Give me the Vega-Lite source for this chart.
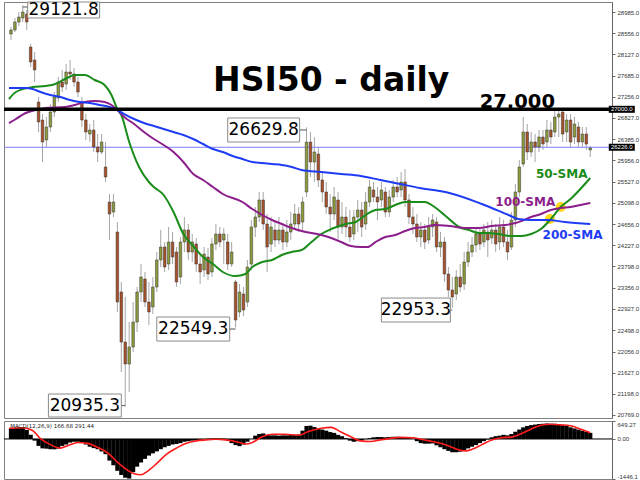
{
"$schema":"https://vega.github.io/schema/vega-lite/v6.json",
"padding":{"left":1,"top":0,"right":0,"bottom":0},
"background":"white",
"spacing":1,
"config":{"view":{"stroke":"#808080","strokeWidth":1},"axisRight":{"labelFont":"Liberation Sans","labelFontSize":6,"labelColor":"#333","tickSize":3,"tickColor":"#666","domainColor":"#666","labelPadding":2,"grid":false,"title":null}},
"datasets":{
"candles":[
{"i":0,"o":28536,"h":28679,"l":28414,"c":28618},{"i":1,"o":28618,"h":28863,"l":28577,"c":28781},{"i":2,"o":28781,"h":28985,"l":28700,"c":28883},{"i":3,"o":28863,"h":29122,"l":28781,"c":28985},{"i":4,"o":28944,"h":29026,"l":28618,"c":28781},{"i":5,"o":28271,"h":28332,"l":27863,"c":27965},{"i":6,"o":28006,"h":28169,"l":27557,"c":27802},{"i":7,"o":27149,"h":27251,"l":26537,"c":26741},{"i":8,"o":26782,"h":26904,"l":25925,"c":26333},{"i":9,"o":26374,"h":26843,"l":26231,"c":26639},
{"i":10,"o":26639,"h":27108,"l":26537,"c":26945},{"i":11,"o":26945,"h":27353,"l":26843,"c":27251},{"i":12,"o":27231,"h":27659,"l":27149,"c":27557},{"i":13,"o":27557,"h":27802,"l":27353,"c":27455},{"i":14,"o":27516,"h":27924,"l":27394,"c":27761},{"i":15,"o":27761,"h":28006,"l":27598,"c":27720},{"i":16,"o":27720,"h":27843,"l":27455,"c":27557},{"i":17,"o":27557,"h":27659,"l":27251,"c":27353},{"i":18,"o":27149,"h":27251,"l":26639,"c":26782},{"i":19,"o":26782,"h":26904,"l":26374,"c":26537},
{"i":20,"o":26496,"h":26700,"l":26333,"c":26578},{"i":21,"o":26578,"h":26782,"l":26129,"c":26231},{"i":22,"o":26231,"h":26496,"l":25925,"c":26129},{"i":23,"o":26129,"h":26496,"l":26088,"c":26333},{"i":24,"o":25823,"h":26333,"l":25517,"c":25619},{"i":25,"o":25109,"h":25272,"l":24334,"c":24864},{"i":26,"o":24905,"h":25272,"l":24803,"c":25109},{"i":27,"o":24497,"h":24701,"l":22865,"c":23069},{"i":28,"o":23273,"h":23477,"l":21641,"c":22253},{"i":29,"o":22253,"h":23171,"l":20935,"c":21804},
{"i":30,"o":21804,"h":22661,"l":21233,"c":22151},{"i":31,"o":22151,"h":23069,"l":22049,"c":22661},{"i":32,"o":22661,"h":23375,"l":22457,"c":23273},{"i":33,"o":23273,"h":23844,"l":23069,"c":23579},{"i":34,"o":23538,"h":23681,"l":22967,"c":23069},{"i":35,"o":23069,"h":23477,"l":22599,"c":22865},{"i":36,"o":22967,"h":23579,"l":22824,"c":23375},{"i":37,"o":23375,"h":24089,"l":23273,"c":23926},{"i":38,"o":23926,"h":24538,"l":23783,"c":24191},{"i":39,"o":24191,"h":24293,"l":23681,"c":23783},
{"i":40,"o":23844,"h":24599,"l":23722,"c":24293},{"i":41,"o":24293,"h":24497,"l":23844,"c":23987},{"i":42,"o":24089,"h":24191,"l":23375,"c":23477},{"i":43,"o":23579,"h":24395,"l":23436,"c":24293},{"i":44,"o":24293,"h":24803,"l":24089,"c":24538},{"i":45,"o":24538,"h":24660,"l":23926,"c":24089},{"i":46,"o":24089,"h":24456,"l":23885,"c":24293},{"i":47,"o":24252,"h":24375,"l":23681,"c":23844},{"i":48,"o":23844,"h":24048,"l":23436,"c":23681},{"i":49,"o":23722,"h":24191,"l":23579,"c":24048},
{"i":50,"o":23987,"h":24171,"l":23518,"c":23640},{"i":51,"o":23681,"h":24375,"l":23579,"c":24252},{"i":52,"o":24252,"h":24660,"l":24130,"c":24456},{"i":53,"o":24456,"h":24599,"l":24191,"c":24293},{"i":54,"o":24334,"h":24579,"l":23844,"c":24456},{"i":55,"o":24293,"h":24456,"l":23722,"c":23844},{"i":56,"o":23844,"h":24293,"l":23783,"c":24089},{"i":57,"o":23477,"h":23518,"l":22549,"c":22702},{"i":58,"o":22865,"h":23436,"l":22763,"c":23273},{"i":59,"o":23232,"h":23375,"l":22783,"c":22906},
{"i":60,"o":23069,"h":23926,"l":22967,"c":23783},{"i":61,"o":23844,"h":24742,"l":23722,"c":24599},{"i":62,"o":24599,"h":25007,"l":24395,"c":24803},{"i":63,"o":24803,"h":25313,"l":24701,"c":25150},{"i":64,"o":25150,"h":25313,"l":24538,"c":24660},{"i":65,"o":24660,"h":24864,"l":23681,"c":24191},{"i":66,"o":24252,"h":24803,"l":24089,"c":24599},{"i":67,"o":24538,"h":24701,"l":24191,"c":24334},{"i":68,"o":24334,"h":24803,"l":24252,"c":24538},{"i":69,"o":24538,"h":24660,"l":24130,"c":24293},
{"i":70,"o":24293,"h":24742,"l":24191,"c":24497},{"i":71,"o":24497,"h":24905,"l":24334,"c":24660},{"i":72,"o":24660,"h":25068,"l":24538,"c":24864},{"i":73,"o":24864,"h":25007,"l":24497,"c":24660},{"i":74,"o":24701,"h":25211,"l":24538,"c":25109},{"i":75,"o":25313,"h":26630,"l":25211,"c":26333},{"i":76,"o":26333,"h":26537,"l":25619,"c":25925},{"i":77,"o":25925,"h":26435,"l":25517,"c":26129},{"i":78,"o":26088,"h":26231,"l":25415,"c":25558},{"i":79,"o":25558,"h":25721,"l":25109,"c":25313},
{"i":80,"o":25313,"h":25517,"l":24864,"c":25007},{"i":81,"o":25007,"h":25272,"l":24497,"c":24864},{"i":82,"o":24864,"h":25415,"l":24742,"c":25211},{"i":83,"o":25150,"h":25313,"l":24293,"c":24599},{"i":84,"o":24599,"h":25109,"l":24456,"c":24803},{"i":85,"o":24803,"h":25007,"l":24395,"c":24599},{"i":86,"o":24599,"h":24946,"l":24293,"c":24395},{"i":87,"o":24456,"h":24946,"l":24334,"c":24803},{"i":88,"o":24803,"h":25150,"l":24497,"c":24946},{"i":89,"o":24946,"h":25109,"l":24395,"c":24599},
{"i":90,"o":24660,"h":25313,"l":24538,"c":25109},{"i":91,"o":25109,"h":25558,"l":25007,"c":25415},{"i":92,"o":25354,"h":25517,"l":25109,"c":25211},{"i":93,"o":25211,"h":25415,"l":24742,"c":25109},{"i":94,"o":25150,"h":25517,"l":25007,"c":25354},{"i":95,"o":25313,"h":25415,"l":24803,"c":24905},{"i":96,"o":24905,"h":25354,"l":24803,"c":25211},{"i":97,"o":25211,"h":25558,"l":25109,"c":25415},{"i":98,"o":25415,"h":25619,"l":25211,"c":25313},{"i":99,"o":25354,"h":25721,"l":25211,"c":25517},
{"i":100,"o":25517,"h":25782,"l":25007,"c":25150},{"i":101,"o":25150,"h":25272,"l":24660,"c":24803},{"i":102,"o":24803,"h":25007,"l":24456,"c":24660},{"i":103,"o":24660,"h":24864,"l":24293,"c":24395},{"i":104,"o":24395,"h":24701,"l":24191,"c":24538},{"i":105,"o":24538,"h":24660,"l":24150,"c":24293},{"i":106,"o":24334,"h":24803,"l":24252,"c":24599},{"i":107,"o":24599,"h":24864,"l":24395,"c":24742},{"i":108,"o":24701,"h":24803,"l":24089,"c":24191},{"i":109,"o":24191,"h":24497,"l":23987,"c":24293},
{"i":110,"o":24293,"h":24395,"l":23477,"c":23640},{"i":111,"o":23640,"h":23783,"l":23171,"c":23314},{"i":112,"o":23314,"h":23579,"l":22953,"c":23171},{"i":113,"o":23232,"h":23722,"l":23110,"c":23579},{"i":114,"o":23579,"h":23844,"l":23273,"c":23375},{"i":115,"o":23436,"h":24089,"l":23314,"c":23885},{"i":116,"o":23885,"h":24293,"l":23783,"c":24089},{"i":117,"o":24089,"h":24395,"l":23987,"c":24232},{"i":118,"o":24232,"h":24599,"l":24089,"c":24456},{"i":119,"o":24456,"h":24599,"l":24130,"c":24252},
{"i":120,"o":24293,"h":24660,"l":24191,"c":24538},{"i":121,"o":24497,"h":24701,"l":23987,"c":24334},{"i":122,"o":24375,"h":24742,"l":24252,"c":24538},{"i":123,"o":24538,"h":24660,"l":24089,"c":24252},{"i":124,"o":24293,"h":24803,"l":24130,"c":24599},{"i":125,"o":24599,"h":24742,"l":24191,"c":24293},{"i":126,"o":24293,"h":24538,"l":23926,"c":24089},{"i":127,"o":24191,"h":24905,"l":24130,"c":24742},{"i":128,"o":24742,"h":25476,"l":24599,"c":25313},{"i":129,"o":25313,"h":25966,"l":25211,"c":25823},
{"i":130,"o":25884,"h":26843,"l":25823,"c":26537},{"i":131,"o":26537,"h":26700,"l":25966,"c":26129},{"i":132,"o":26129,"h":26537,"l":26027,"c":26333},{"i":133,"o":26333,"h":26496,"l":25925,"c":26231},{"i":134,"o":26231,"h":26578,"l":26129,"c":26435},{"i":135,"o":26435,"h":26578,"l":26170,"c":26292},{"i":136,"o":26333,"h":26782,"l":26231,"c":26578},{"i":137,"o":26578,"h":26741,"l":26292,"c":26435},{"i":138,"o":26537,"h":26986,"l":26435,"c":26843},{"i":139,"o":26843,"h":26986,"l":26435,"c":26904},
{"i":140,"o":26945,"h":26986,"l":26333,"c":26496},{"i":141,"o":26537,"h":26904,"l":26333,"c":26782},{"i":142,"o":26782,"h":26904,"l":26231,"c":26333},{"i":143,"o":26435,"h":26843,"l":26292,"c":26700},{"i":144,"o":26639,"h":26741,"l":26231,"c":26333},{"i":145,"o":26333,"h":26639,"l":26231,"c":26496},{"i":146,"o":26496,"h":26639,"l":26170,"c":26292},{"i":147,"o":26170,"h":26250,"l":26027,"c":26210}
],
"sma":[
{"s":"50-SMA","i":-0.5,"v":27210},{"s":"50-SMA","i":1.25,"v":27353},{"s":"50-SMA","i":5.5,"v":27455},{"s":"50-SMA","i":8.75,"v":27476},{"s":"50-SMA","i":11.25,"v":27516},{"s":"50-SMA","i":13.75,"v":27618},{"s":"50-SMA","i":16.25,"v":27700},{"s":"50-SMA","i":18.75,"v":27700},{"s":"50-SMA","i":21.25,"v":27598},{"s":"50-SMA","i":23.75,"v":27496},{"s":"50-SMA","i":25.5,"v":27292},{"s":"50-SMA","i":27,"v":27006},{"s":"50-SMA","i":28,"v":26884},{"s":"50-SMA","i":30,"v":26333},{"s":"50-SMA","i":32.5,"v":25823},{"s":"50-SMA","i":35,"v":25517},{"s":"50-SMA","i":36.25,"v":25415},{"s":"50-SMA","i":38.75,"v":25252},{"s":"50-SMA","i":41.25,"v":24905},{"s":"50-SMA","i":43.75,"v":24456},{"s":"50-SMA","i":46.25,"v":24211},{"s":"50-SMA","i":48.75,"v":23987},{"s":"50-SMA","i":51.25,"v":23844},{"s":"50-SMA","i":53.75,"v":23681},{"s":"50-SMA","i":57,"v":23599},{"s":"50-SMA","i":59.5,"v":23640},{"s":"50-SMA","i":61.25,"v":23783},{"s":"50-SMA","i":63.75,"v":23885},{"s":"50-SMA","i":66.25,"v":23926},{"s":"50-SMA","i":68.75,"v":24028},{"s":"50-SMA","i":71.25,"v":24089},{"s":"50-SMA","i":73.75,"v":24130},{"s":"50-SMA","i":76.25,"v":24293},{"s":"50-SMA","i":78.75,"v":24456},{"s":"50-SMA","i":81.25,"v":24558},{"s":"50-SMA","i":85,"v":24660},{"s":"50-SMA","i":87.5,"v":24701},{"s":"50-SMA","i":90,"v":24844},{"s":"50-SMA","i":92.5,"v":24946},{"s":"50-SMA","i":95,"v":24966},{"s":"50-SMA","i":97.5,"v":25048},{"s":"50-SMA","i":100,"v":25109},{"s":"50-SMA","i":102.5,"v":25109},{"s":"50-SMA","i":105,"v":25109},{"s":"50-SMA","i":107.5,"v":25007},{"s":"50-SMA","i":110,"v":24844},{"s":"50-SMA","i":113.75,"v":24599},{"s":"50-SMA","i":116.25,"v":24538},{"s":"50-SMA","i":118.75,"v":24477},{"s":"50-SMA","i":121.25,"v":24477},{"s":"50-SMA","i":123.75,"v":24456},{"s":"50-SMA","i":127,"v":24415},{"s":"50-SMA","i":129.5,"v":24415},{"s":"50-SMA","i":132,"v":24456},{"s":"50-SMA","i":134.5,"v":24558},{"s":"50-SMA","i":137,"v":24762},{"s":"50-SMA","i":139.5,"v":25007},{"s":"50-SMA","i":142,"v":25170},{"s":"50-SMA","i":144.5,"v":25374},{"s":"50-SMA","i":147,"v":25599},
{"s":"100-SMA","i":-0.5,"v":26720},{"s":"100-SMA","i":1.25,"v":26802},{"s":"100-SMA","i":3.75,"v":26925},{"s":"100-SMA","i":6.25,"v":26986},{"s":"100-SMA","i":8.75,"v":27027},{"s":"100-SMA","i":13.75,"v":27047},{"s":"100-SMA","i":16.25,"v":27088},{"s":"100-SMA","i":18.75,"v":27149},{"s":"100-SMA","i":21.25,"v":27169},{"s":"100-SMA","i":23.75,"v":27149},{"s":"100-SMA","i":25.5,"v":27088},{"s":"100-SMA","i":27,"v":26986},{"s":"100-SMA","i":28.75,"v":26843},{"s":"100-SMA","i":31.25,"v":26700},{"s":"100-SMA","i":33.75,"v":26537},{"s":"100-SMA","i":36.25,"v":26394},{"s":"100-SMA","i":38.75,"v":26272},{"s":"100-SMA","i":41.25,"v":26129},{"s":"100-SMA","i":43.75,"v":25925},{"s":"100-SMA","i":46.25,"v":25680},{"s":"100-SMA","i":48.75,"v":25558},{"s":"100-SMA","i":51.25,"v":25415},{"s":"100-SMA","i":53.75,"v":25272},{"s":"100-SMA","i":58.75,"v":25109},{"s":"100-SMA","i":61.25,"v":24966},{"s":"100-SMA","i":63.75,"v":24844},{"s":"100-SMA","i":66.25,"v":24742},{"s":"100-SMA","i":68.75,"v":24660},{"s":"100-SMA","i":71.25,"v":24579},{"s":"100-SMA","i":73.75,"v":24518},{"s":"100-SMA","i":78.75,"v":24436},{"s":"100-SMA","i":81.25,"v":24375},{"s":"100-SMA","i":83.75,"v":24293},{"s":"100-SMA","i":86.25,"v":24211},{"s":"100-SMA","i":88.75,"v":24191},{"s":"100-SMA","i":90.5,"v":24191},{"s":"100-SMA","i":92.5,"v":24293},{"s":"100-SMA","i":95,"v":24395},{"s":"100-SMA","i":97.5,"v":24436},{"s":"100-SMA","i":100,"v":24518},{"s":"100-SMA","i":102.5,"v":24579},{"s":"100-SMA","i":105,"v":24599},{"s":"100-SMA","i":107.5,"v":24640},{"s":"100-SMA","i":111.25,"v":24620},{"s":"100-SMA","i":115.5,"v":24579},{"s":"100-SMA","i":118.75,"v":24579},{"s":"100-SMA","i":122,"v":24620},{"s":"100-SMA","i":125.5,"v":24640},{"s":"100-SMA","i":128,"v":24680},{"s":"100-SMA","i":129.5,"v":24721},{"s":"100-SMA","i":132,"v":24803},{"s":"100-SMA","i":134.5,"v":24864},{"s":"100-SMA","i":137,"v":24946},{"s":"100-SMA","i":139.5,"v":24987},{"s":"100-SMA","i":142,"v":25007},{"s":"100-SMA","i":144.5,"v":25048},{"s":"100-SMA","i":147,"v":25088},
{"s":"200-SMA","i":-0.5,"v":27435},{"s":"200-SMA","i":3.75,"v":27435},{"s":"200-SMA","i":5.5,"v":27414},{"s":"200-SMA","i":7.5,"v":27353},{"s":"200-SMA","i":10,"v":27292},{"s":"200-SMA","i":12.5,"v":27251},{"s":"200-SMA","i":15,"v":27190},{"s":"200-SMA","i":17.5,"v":27149},{"s":"200-SMA","i":20,"v":27129},{"s":"200-SMA","i":22.5,"v":27088},{"s":"200-SMA","i":25,"v":27047},{"s":"200-SMA","i":27,"v":26986},{"s":"200-SMA","i":28.75,"v":26904},{"s":"200-SMA","i":31.25,"v":26802},{"s":"200-SMA","i":33.75,"v":26720},{"s":"200-SMA","i":36.25,"v":26659},{"s":"200-SMA","i":38.75,"v":26598},{"s":"200-SMA","i":41.25,"v":26537},{"s":"200-SMA","i":43.75,"v":26476},{"s":"200-SMA","i":46.25,"v":26394},{"s":"200-SMA","i":48.75,"v":26292},{"s":"200-SMA","i":51.25,"v":26190},{"s":"200-SMA","i":53.75,"v":26129},{"s":"200-SMA","i":56.25,"v":26047},{"s":"200-SMA","i":58.75,"v":25986},{"s":"200-SMA","i":61.25,"v":25925},{"s":"200-SMA","i":63.75,"v":25905},{"s":"200-SMA","i":66.25,"v":25884},{"s":"200-SMA","i":68.75,"v":25864},{"s":"200-SMA","i":71.25,"v":25823},{"s":"200-SMA","i":73.75,"v":25762},{"s":"200-SMA","i":78.75,"v":25721},{"s":"200-SMA","i":83.75,"v":25680},{"s":"200-SMA","i":88.75,"v":25639},{"s":"200-SMA","i":93.75,"v":25558},{"s":"200-SMA","i":98.75,"v":25476},{"s":"200-SMA","i":103.75,"v":25394},{"s":"200-SMA","i":108.75,"v":25333},{"s":"200-SMA","i":111.25,"v":25293},{"s":"200-SMA","i":119.5,"v":25068},{"s":"200-SMA","i":126.25,"v":24844},{"s":"200-SMA","i":128.75,"v":24762},{"s":"200-SMA","i":132,"v":24742},{"s":"200-SMA","i":136.25,"v":24742},{"s":"200-SMA","i":140.5,"v":24701},{"s":"200-SMA","i":147,"v":24660}
],
"smalabels":[
{"s":"50-SMA","i":139.75,"p":25599},{"s":"100-SMA","i":130.5,"p":25027},{"s":"200-SMA","i":142.5,"p":24354}
],
"cross":[{"i":136.75,"p":24762},{"i":139.5,"p":25007}],
"levels":[{"name":"support","p":27000},{"name":"bid","p":26226}],
"boxes":[
{"t":"29121.8","x1":4.25,"x2":22.5,"p1":29189,"p2":28863,"i":13.375,"p":29026},
{"t":"26629.8","x1":55,"x2":73.25,"p1":26823,"p2":26333,"i":64.125,"p":26578},
{"t":"22549.3","x1":37,"x2":55.5,"p1":22763,"p2":22273,"i":46.25,"p":22518},
{"t":"22953.3","x1":94,"x2":111.5,"p1":23150,"p2":22661,"i":102.75,"p":22906},
{"t":"20935.3","x1":9.5,"x2":28,"p1":21192,"p2":20723,"i":18.75,"p":20957}
],
"links":[
{"i":3,"p":29087,"i2":4.25},{"i":73.25,"p":26578,"i2":75},{"i":55.5,"p":22518,"i2":57},{"i":111.5,"p":22906,"i2":112},{"i":28,"p":20957,"i2":29}
],
"tags":[{"t":"27000.0","i":155,"p":27000},{"t":"26226.0","i":155,"p":26226}],
"macd":[
{"i":0,"m":380},{"i":1,"m":400},{"i":2,"m":410},{"i":3,"m":400},{"i":4,"m":330},{"i":5,"m":150},{"i":6,"m":-60},{"i":7,"m":-250},{"i":8,"m":-340},{"i":9,"m":-350},
{"i":10,"m":-370},{"i":11,"m":-374},{"i":12,"m":-350},{"i":13,"m":-250},{"i":14,"m":-200},{"i":15,"m":-130},{"i":16,"m":-100},{"i":17,"m":-100},{"i":18,"m":-120},{"i":19,"m":-200},
{"i":20,"m":-280},{"i":21,"m":-330},{"i":22,"m":-370},{"i":23,"m":-450},{"i":24,"m":-550},{"i":25,"m":-780},{"i":26,"m":-950},{"i":27,"m":-1150},{"i":28,"m":-1300},{"i":29,"m":-1400},
{"i":30,"m":-1430},{"i":31,"m":-1200},{"i":32,"m":-1000},{"i":33,"m":-850},{"i":34,"m":-720},{"i":35,"m":-600},{"i":36,"m":-520},{"i":37,"m":-450},{"i":38,"m":-370},{"i":39,"m":-300},
{"i":40,"m":-250},{"i":41,"m":-200},{"i":42,"m":-180},{"i":43,"m":-150},{"i":44,"m":-100},{"i":45,"m":-80},{"i":46,"m":-60},{"i":47,"m":-40},{"i":48,"m":-30},{"i":49,"m":-10},
{"i":50,"m":10},{"i":51,"m":15},{"i":52,"m":20},{"i":53,"m":15},{"i":54,"m":10},{"i":55,"m":-60},{"i":56,"m":-150},{"i":57,"m":-220},{"i":58,"m":-260},{"i":59,"m":-200},
{"i":60,"m":-100},{"i":61,"m":0},{"i":62,"m":120},{"i":63,"m":180},{"i":64,"m":200},{"i":65,"m":150},{"i":66,"m":130},{"i":67,"m":130},{"i":68,"m":120},{"i":69,"m":130},
{"i":70,"m":130},{"i":71,"m":140},{"i":72,"m":140},{"i":73,"m":160},{"i":74,"m":300},{"i":75,"m":470},{"i":76,"m":480},{"i":77,"m":430},{"i":78,"m":380},{"i":79,"m":340},
{"i":80,"m":300},{"i":81,"m":250},{"i":82,"m":220},{"i":83,"m":150},{"i":84,"m":100},{"i":85,"m":30},{"i":86,"m":-60},{"i":87,"m":-100},{"i":88,"m":-80},{"i":89,"m":-50},
{"i":90,"m":-10},{"i":91,"m":30},{"i":92,"m":60},{"i":93,"m":70},{"i":94,"m":70},{"i":95,"m":60},{"i":96,"m":70},{"i":97,"m":80},{"i":98,"m":80},{"i":99,"m":70},
{"i":100,"m":60},{"i":101,"m":30},{"i":102,"m":10},{"i":103,"m":-80},{"i":104,"m":-150},{"i":105,"m":-170},{"i":106,"m":-170},{"i":107,"m":-160},{"i":108,"m":-230},{"i":109,"m":-300},
{"i":110,"m":-370},{"i":111,"m":-430},{"i":112,"m":-480},{"i":113,"m":-480},{"i":114,"m":-460},{"i":115,"m":-400},{"i":116,"m":-340},{"i":117,"m":-280},{"i":118,"m":-220},{"i":119,"m":-150},
{"i":120,"m":-80},{"i":121,"m":-20},{"i":122,"m":60},{"i":123,"m":100},{"i":124,"m":120},{"i":125,"m":150},{"i":126,"m":130},{"i":127,"m":180},{"i":128,"m":260},{"i":129,"m":340},
{"i":130,"m":420},{"i":131,"m":470},{"i":132,"m":500},{"i":133,"m":520},{"i":134,"m":540},{"i":135,"m":550},{"i":136,"m":560},{"i":137,"m":550},{"i":138,"m":550},{"i":139,"m":540},
{"i":140,"m":500},{"i":141,"m":480},{"i":142,"m":420},{"i":143,"m":380},{"i":144,"m":340},{"i":145,"m":300},{"i":146,"m":260},{"i":147,"m":220}
],
"sig":[
{"i":-0.5,"v":385},{"i":3,"v":408},{"i":5.5,"v":306},{"i":7.5,"v":10},{"i":10,"v":-204},{"i":12.5,"v":-330},{"i":14.5,"v":-238},{"i":17,"v":-125},{"i":19.5,"v":-158},{"i":22,"v":-306},{"i":24.5,"v":-498},{"i":27,"v":-838},{"i":29.5,"v":-1122},{"i":31.25,"v":-1258},{"i":33,"v":-1292},{"i":34.5,"v":-1180},{"i":37,"v":-884},{"i":39.5,"v":-544},{"i":42,"v":-330},{"i":44.5,"v":-158},{"i":47,"v":-68},{"i":49.5,"v":-34},{"i":52,"v":-11},{"i":54.5,"v":-34},{"i":57,"v":-90},{"i":59.5,"v":-181},{"i":61.25,"v":-125},{"i":63.75,"v":79},{"i":66.25,"v":170},{"i":69.5,"v":170},{"i":73,"v":136},{"i":75.5,"v":272},{"i":78.75,"v":390},{"i":81.25,"v":420},{"i":83.75,"v":250},{"i":86.25,"v":79},{"i":88.75,"v":-68},{"i":91.25,"v":-90},{"i":93.75,"v":-34},{"i":96.25,"v":23},{"i":98.75,"v":57},{"i":102,"v":45},{"i":103.75,"v":0},{"i":106.25,"v":-68},{"i":108.75,"v":-147},{"i":111.25,"v":-260},{"i":113.75,"v":-396},{"i":115.5,"v":-430},{"i":117,"v":-374},{"i":119.5,"v":-204},{"i":122,"v":-34},{"i":124.5,"v":45},{"i":127,"v":68},{"i":129.5,"v":192},{"i":132,"v":363},{"i":134.5,"v":498},{"i":137,"v":532},{"i":139.5,"v":510},{"i":142,"v":476},{"i":144.5,"v":363},{"i":147,"v":227}
],
"zero":[{"m":0}],
"macdlabel":[{"t":"MACD(12,26,9) 166.68 291.44","i":-0.2,"m":480}]
},
"vconcat":[
{
"width":608,"height":416,
"resolve":{"axis":{"y":"independent","x":"independent"}},
"layer":[
{"data":{"name":"candles"},"mark":{"type":"rule","color":"#a6a6a6","strokeWidth":1},
 "encoding":{"x":{"field":"i","type":"quantitative","scale":{"domain":[-0.5,151.25],"nice":false,"zero":false},"axis":null},
  "y":{"field":"l","type":"quantitative","scale":{"domain":[20703,29189],"nice":false,"zero":false},
   "axis":{"orient":"right","values":[28985,28556,28127,27685,27256,26827,26385,25956,25527,25098,24656,24227,23798,23356,22927,22498,22056,21627,21198,20769],"format":".1f"}},
  "y2":{"field":"h"}}},
{"data":{"name":"cross"},"mark":{"type":"point","filled":true,"color":"#ffd400","size":100,"opacity":0.9},
 "encoding":{"x":{"field":"i","type":"quantitative","axis":null},"y":{"field":"p","type":"quantitative","axis":null}}},
{"data":{"name":"levels"},"transform":[{"filter":"datum.name == 'bid'"}],"mark":{"type":"rule","color":"#7d7dff","strokeWidth":1},"encoding":{"y":{"field":"p","type":"quantitative","axis":null}}},
{"data":{"name":"candles"},"mark":{"type":"bar","size":2.6,"orient":"vertical","stroke":"#333","strokeWidth":0.5},
 "encoding":{"x":{"field":"i","type":"quantitative","axis":null},"y":{"field":"o","type":"quantitative","axis":null},"y2":{"field":"c"},
  "color":{"condition":{"test":"datum.c >= datum.o","value":"#8d9b3b"},"value":"#a8512a"}}},
{"data":{"name":"sma"},"mark":{"type":"line","strokeWidth":2,"interpolate":"monotone"},
 "encoding":{"x":{"field":"i","type":"quantitative","axis":null},"y":{"field":"v","type":"quantitative","axis":null},
  "color":{"field":"s","type":"nominal","legend":null,"scale":{"domain":["50-SMA","100-SMA","200-SMA"],"range":["#1a8c1a","#8c1e8c","#1f3cf5"]}}}},
{"data":{"name":"levels"},"transform":[{"filter":"datum.name == 'support'"}],"mark":{"type":"rule","color":"#000","strokeWidth":3.5},"encoding":{"y":{"field":"p","type":"quantitative","axis":null}}},
{"data":{"name":"links"},"mark":{"type":"rule","color":"#555","strokeWidth":1},
 "encoding":{"x":{"field":"i","type":"quantitative","axis":null},"x2":{"field":"i2"},"y":{"field":"p","type":"quantitative","axis":null}}},
{"data":{"name":"boxes"},"mark":{"type":"rect","fill":"white","stroke":"#8a8a8a","strokeWidth":1},
 "encoding":{"x":{"field":"x1","type":"quantitative","axis":null},"x2":{"field":"x2"},"y":{"field":"p1","type":"quantitative","axis":null},"y2":{"field":"p2"}}},
{"data":{"name":"boxes"},"mark":{"type":"text","font":"DejaVu Sans","fontSize":17,"color":"#000","align":"center","baseline":"middle"},
 "encoding":{"x":{"field":"i","type":"quantitative","axis":null},"y":{"field":"p","type":"quantitative","axis":null},"text":{"field":"t"}}},
{"data":{"values":[{"t":"HSI50 - daily","i":81.25,"p":27373}]},"mark":{"type":"text","font":"DejaVu Sans","fontWeight":"bold","fontSize":33,"color":"#000","align":"center","baseline":"alphabetic"},
 "encoding":{"x":{"field":"i","type":"quantitative","axis":null},"y":{"field":"p","type":"quantitative","axis":null},"text":{"field":"t"}}},
{"data":{"values":[{"t":"27,000","i":128.5,"p":27027}]},"mark":{"type":"text","font":"DejaVu Sans","fontWeight":"bold","fontSize":19.5,"color":"#000","align":"center","baseline":"alphabetic"},
 "encoding":{"x":{"field":"i","type":"quantitative","axis":null},"y":{"field":"p","type":"quantitative","axis":null},"text":{"field":"t"}}},
{"data":{"name":"smalabels"},"mark":{"type":"text","font":"DejaVu Sans","fontWeight":"bold","fontSize":12,"align":"center","baseline":"alphabetic"},
 "encoding":{"x":{"field":"i","type":"quantitative","axis":null},"y":{"field":"p","type":"quantitative","axis":null},"text":{"field":"s"},
  "color":{"field":"s","type":"nominal","legend":null,"scale":{"domain":["50-SMA","100-SMA","200-SMA"],"range":["#1a8c1a","#8c1e8c","#1f3cf5"]}}}},
{"data":{"name":"tags"},"mark":{"type":"tick","orient":"horizontal","color":"#000","size":26,"thickness":7,"opacity":1},
 "encoding":{"x":{"field":"i","type":"quantitative","axis":null},"y":{"field":"p","type":"quantitative","axis":null}}},
{"data":{"name":"tags"},"mark":{"type":"text","font":"Liberation Sans","fontSize":6,"color":"#fff","align":"center","baseline":"middle"},
 "encoding":{"x":{"field":"i","type":"quantitative","axis":null},"y":{"field":"p","type":"quantitative","axis":null},"text":{"field":"t"}}}
]
},
{
"width":608,"height":58,
"resolve":{"axis":{"y":"independent","x":"independent"}},
"layer":[
{"data":{"name":"macd"},"mark":{"type":"bar","color":"#000","size":4.2,"orient":"vertical"},
 "encoding":{"x":{"field":"i","type":"quantitative","scale":{"domain":[-0.5,151.25],"nice":false,"zero":false},"axis":null},
  "y":{"field":"m","type":"quantitative","scale":{"domain":[-1446.1,649.27],"nice":false,"zero":false},
   "axis":{"orient":"right","values":[649.27,0,-1446.1],"labelExpr":"datum.value == 0 ? '0.00' : (datum.value > 0 ? '649.27' : '-1446.1')","labelFlush":true}},
  "y2":{"datum":0}}},
{"data":{"name":"zero"},"mark":{"type":"rule","color":"#000","strokeWidth":1},"encoding":{"y":{"field":"m","type":"quantitative","axis":null}}},
{"data":{"name":"sig"},"mark":{"type":"line","color":"#ff1a1a","strokeWidth":1.6,"interpolate":"monotone"},
 "encoding":{"x":{"field":"i","type":"quantitative","axis":null},"y":{"field":"v","type":"quantitative","axis":null}}},
{"data":{"name":"macdlabel"},"mark":{"type":"text","font":"DejaVu Sans","fontSize":5.5,"color":"#222","align":"left","baseline":"middle"},
 "encoding":{"x":{"field":"i","type":"quantitative","axis":null},"y":{"field":"m","type":"quantitative","axis":null},"text":{"field":"t"}}}
]
}
]
}
